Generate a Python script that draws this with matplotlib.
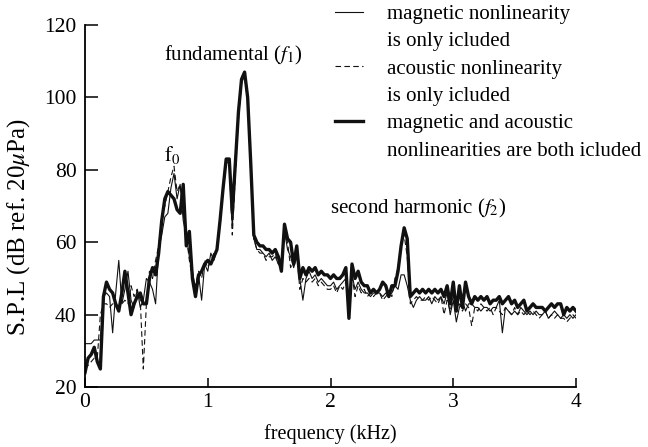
import numpy as np
import matplotlib
matplotlib.use("Agg")
import matplotlib.pyplot as plt
from matplotlib.lines import Line2D

plt.rcParams['font.family'] = ['Liberation Serif', 'DejaVu Serif']
plt.rcParams['mathtext.fontset'] = 'stix'

# frequency bins (kHz), 25 Hz spacing
freq = np.linspace(0, 4, 161)

# magnetic nonlinearity only (thin solid)
spl_mag = [32, 32, 32, 33, 33, 33, 45, 46, 45, 35,
           46, 55, 43, 47, 52, 44, 42, 47, 42, 44,
           50, 49, 47, 43, 58, 62, 67, 68, 75, 79,
           72, 76, 66, 62, 56, 52, 47, 51, 44, 54,
           52, 57, 55, 58, 65, 74, 82, 82, 64, 80,
           95, 104, 106, 99, 80, 61, 58, 58, 57, 56,
           57, 55, 56, 54, 53, 63, 58, 56, 53, 56,
           50, 44, 50, 52, 50, 51, 49, 50, 49, 48,
           48, 49, 47, 48, 49, 50, 41, 51, 47, 49,
           47, 46, 46, 45, 46, 46, 46, 45, 46, 45,
           46, 48, 47, 51, 51, 48, 44, 42, 44, 45,
           44, 44, 45, 43, 45, 44, 45, 43, 46, 40,
           44, 38, 42, 44, 41, 43, 43, 42, 42, 41,
           42, 42, 41, 42, 42, 44, 35, 42, 41, 40,
           41, 40, 42, 41, 40, 41, 40, 41, 40, 40,
           41, 39, 40, 41, 40, 39, 40, 39, 40, 39, 40]

# acoustic nonlinearity only (dashed)
spl_aco = [25, 26, 27, 28, 28, 40, 43, 43, 42, 43,
           43, 42, 43, 44, 43, 48, 45, 47, 44, 25,
           43, 52, 50, 55, 59, 67, 70, 74, 78, 81,
           74, 76, 68, 62, 55, 50, 48, 52, 50, 55,
           53, 55, 57, 58, 66, 75, 83, 83, 62, 79,
           94, 104, 107, 100, 79, 61, 58, 57, 57, 55,
           56, 56, 57, 54, 55, 62, 60, 53, 55, 57,
           47, 50, 49, 50, 49, 50, 48, 49, 48, 47,
           47, 48, 46, 48, 47, 49, 43, 51, 45, 48,
           46, 47, 45, 46, 45, 46, 46, 44, 45, 46,
           45, 50, 53, 60, 62, 56, 43, 44, 45, 44,
           44, 45, 44, 45, 44, 43, 45, 40, 44, 41,
           45, 42, 43, 41, 43, 42, 37, 42, 41, 43,
           42, 41, 42, 40, 42, 41, 40, 42, 41, 40,
           42, 40, 41, 40, 41, 40, 41, 40, 39, 40,
           41, 39, 40, 39, 40, 39, 39, 38, 39, 40, 39]

# both nonlinearities (thick solid)
spl_both = [24, 28, 29, 31, 27, 25, 45, 49, 47, 46,
            43, 41, 46, 52, 46, 40, 43, 45, 46, 43,
            43, 50, 53, 51, 57, 66, 72, 74, 73, 72,
            69, 68, 76, 59, 63, 50, 45, 51, 52, 54,
            55, 54, 56, 58, 66, 75, 83, 83, 68, 82,
            96, 105, 107, 100, 82, 62, 60, 59, 59, 58,
            58, 57, 58, 56, 52, 65, 61, 60, 54, 59,
            50, 53, 51, 53, 52, 53, 51, 52, 51, 51,
            50, 51, 50, 50, 51, 53, 39, 54, 50, 52,
            49, 48, 48, 46, 47, 46, 47, 49, 48, 45,
            48, 48, 52, 59, 64, 61, 45, 46, 47, 46,
            47, 46, 47, 46, 47, 46, 47, 45, 48, 43,
            49, 41, 48, 42, 49, 45, 43, 45, 44, 45,
            44, 45, 43, 44, 44, 45, 43, 44, 45, 43,
            44, 42, 43, 44, 41, 42, 43, 42, 42, 42,
            41, 42, 43, 42, 43, 43, 40, 42, 41, 42, 41]

fig = plt.figure(figsize=(6.48, 4.47), dpi=100)
ax = fig.add_axes([0.1312, 0.134, 0.7577, 0.810])

ax.plot(freq, spl_mag, color='#111111', lw=0.8)
ax.plot(freq, spl_aco, color='#111111', lw=0.8, dashes=(5, 3))
ax.plot(freq, spl_both, color='#111111', lw=2.4)

ax.set_xlim(0, 4)
ax.set_ylim(20, 120)
ax.set_xticks([0, 1, 2, 3, 4])
ax.set_yticks([20, 40, 60, 80, 100, 120])
for s in ['top', 'right']:
    ax.spines[s].set_visible(False)
for s in ['left', 'bottom']:
    ax.spines[s].set_linewidth(1.3)
ax.tick_params(axis='y', direction='in', length=9.5, width=1.1, labelsize=15.5, pad=6)
ax.tick_params(axis='x', direction='in', length=6.5, width=1.1, labelsize=15.5, pad=4)

ax.set_xlabel('frequency (kHz)', fontsize=14.5, labelpad=9)
ax.set_ylabel(r'S.P.L (dB ref. 20$\mu$Pa)', fontsize=18)
ax.yaxis.set_label_coords(-0.108, 0.442)

ax.text(1.21, 111.7, r'fundamental ($f_1$)', fontsize=15, ha='center', va='center')
ax.text(0.71, 84, r'$\mathrm{f_0}$', fontsize=15, ha='center', va='center')
ax.text(2.71, 69.4, r'second harmonic ($f_2$)', fontsize=15, ha='center', va='center')

blank = Line2D([], [], color='none')
handles = [Line2D([], [], color='#111111', lw=0.8), blank,
           Line2D([], [], color='#111111', lw=0.8, dashes=(5, 3)), blank,
           Line2D([], [], color='#111111', lw=2.4), blank]
labels = ['magnetic nonlinearity', 'is only icluded',
          'acoustic nonlinearity', 'is only icluded',
          'magnetic and acoustic', 'nonlinearities are both icluded']
fig.legend(handles, labels, loc='upper left', bbox_to_anchor=(0.517, 0.99),
           frameon=False, fontsize=15, handlelength=1.35, handletextpad=1.15,
           labelspacing=0.37, borderpad=0, borderaxespad=0)

fig.savefig('out.png', dpi=100)
